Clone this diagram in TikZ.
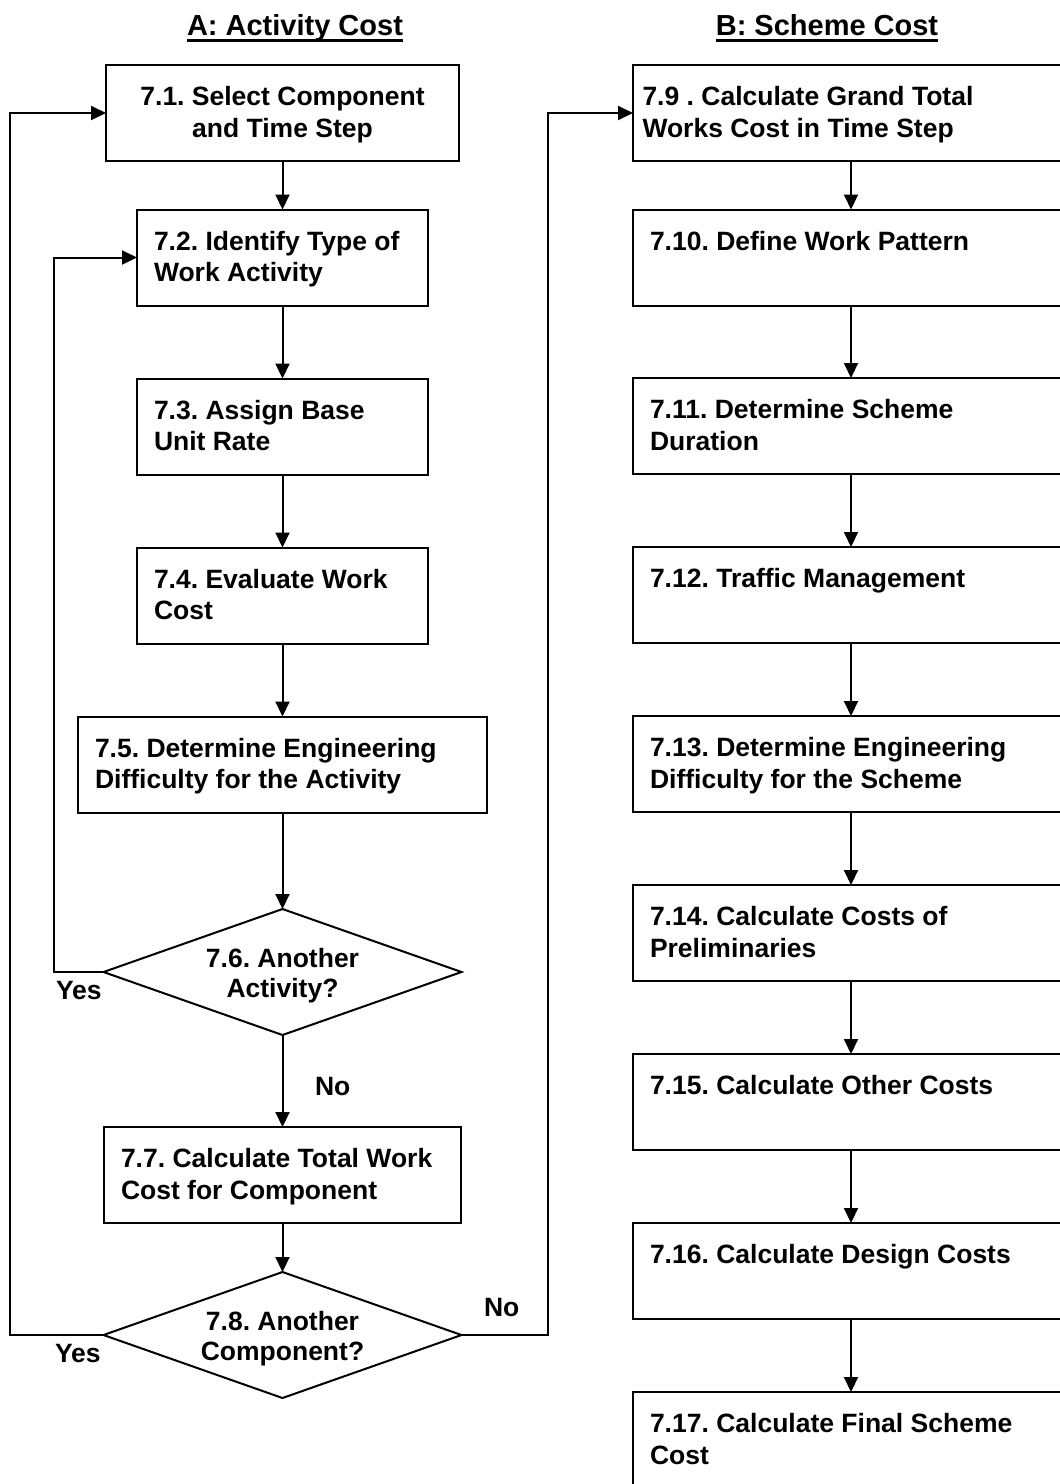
\documentclass[tikz,border=0pt]{standalone}
\usepackage{fontspec}
\setmainfont{Liberation Sans}
\usetikzlibrary{arrows.meta,shapes.geometric}
\frenchspacing
\begin{document}
\begin{tikzpicture}[x=1pt,y=-1pt,
  box/.style={draw,line width=2pt,inner sep=0pt,outer sep=0pt,minimum height=96pt},
  lbox/.style={box,minimum width=291pt},
  rbox/.style={box,minimum width=436pt},
  dia/.style={draw,line width=2pt,shape=diamond,inner sep=0pt,outer sep=0pt,minimum width=358pt,minimum height=126pt},
  txt/.style={inner sep=0pt,outer sep=0pt,font=\fontsize{26.5}{31.7}\selectfont\bfseries,align=left,anchor=north west},
  dtxt/.style={inner sep=0pt,outer sep=0pt,font=\fontsize{26.5}{30}\selectfont\bfseries,align=center,anchor=north},
  yn/.style={inner sep=0pt,outer sep=0pt,font=\fontsize{26.5}{30}\selectfont\bfseries,anchor=base west},
  head/.style={inner sep=0pt,outer sep=0pt,font=\fontsize{29}{34}\selectfont\bfseries,anchor=base},
  arr/.style={line width=2pt,-{Triangle[length=15pt,width=14pt]}},
  ln/.style={line width=2pt}
]
\useasboundingbox (0,0) rectangle (1060,1484);
\clip (0,0) rectangle (1060,1484);
\fill[white] (0,0) rectangle (1060,1484);

% headers
\node[head] (hA) at (295,35.5) {A: Activity Cost};
\node[head] (hB) at (827,35.5) {B: Scheme Cost};
\draw[line width=2.5pt] ([yshift=-5pt]hA.base west) -- ([yshift=-5pt]hA.base east);
\draw[line width=2.5pt] ([yshift=-5pt]hB.base west) -- ([yshift=-5pt]hB.base east);

% left column
\node[box,minimum width=353pt] (b1) at (282.5,113) {};
\node[lbox] (b2) at (282.5,257.5) {};
\node[lbox] (b3) at (282.5,426.5) {};
\node[lbox] (b4) at (282.5,595.5) {};
\node[box,minimum width=409pt] (b5) at (282.5,764.5) {};
\node[dia] (d6) at (282.5,972) {};
\node[box,minimum width=357pt] (b7) at (282.5,1175) {};
\node[dia] (d8) at (282.5,1335) {};

\node[txt,align=center,anchor=north] (t1) at ([yshift=-21.5pt]b1.north) {7.1. Select Component\\and Time Step};
\node[txt] (t2) at ([xshift=17pt,yshift=-21.5pt]b2.north west) {7.2. Identify Type of\\Work Activity};
\node[txt] (t3) at ([xshift=17pt,yshift=-21.5pt]b3.north west) {7.3. Assign Base\\Unit Rate};
\node[txt] (t4) at ([xshift=17pt,yshift=-21.5pt]b4.north west) {7.4. Evaluate Work\\Cost};
\node[txt] (t5) at ([xshift=17pt,yshift=-21.5pt]b5.north west) {7.5. Determine Engineering\\Difficulty for the Activity};
\node[dtxt] (t6) at ([yshift=24pt]d6.center) {7.6. Another\\Activity?};
\node[txt] (t7) at ([xshift=17pt,yshift=-21.5pt]b7.north west) {7.7. Calculate Total Work\\Cost for Component};
\node[dtxt] (t8) at ([yshift=24pt]d8.center) {7.8. Another\\Component?};

% right column
\node[rbox] (b9) at (851,113) {};
\node[rbox] (b10) at (851,257.5) {};
\node[rbox] (b11) at (851,426) {};
\node[rbox] (b12) at (851,595) {};
\node[rbox] (b13) at (851,764) {};
\node[rbox] (b14) at (851,933) {};
\node[rbox] (b15) at (851,1102) {};
\node[rbox] (b16) at (851,1271) {};
\node[rbox] (b17) at (851,1440) {};

\node[txt] (t9) at ([xshift=9.5pt,yshift=-21.5pt]b9.north west) {7.9 . Calculate Grand Total\\Works Cost in Time Step};
\node[txt] (t10) at ([xshift=17pt,yshift=-21.5pt]b10.north west) {7.10. Define Work Pattern};
\node[txt] (t11) at ([xshift=17pt,yshift=-21.5pt]b11.north west) {7.11. Determine Scheme\\Duration};
\node[txt] (t12) at ([xshift=17pt,yshift=-21.5pt]b12.north west) {7.12. Traffic Management};
\node[txt] (t13) at ([xshift=17pt,yshift=-21.5pt]b13.north west) {7.13. Determine Engineering\\Difficulty for the Scheme};
\node[txt] (t14) at ([xshift=17pt,yshift=-21.5pt]b14.north west) {7.14. Calculate Costs of\\Preliminaries};
\node[txt] (t15) at ([xshift=17pt,yshift=-21.5pt]b15.north west) {7.15. Calculate Other Costs};
\node[txt] (t16) at ([xshift=17pt,yshift=-21.5pt]b16.north west) {7.16. Calculate Design Costs};
\node[txt] (t17) at ([xshift=17pt,yshift=-21.5pt]b17.north west) {7.17. Calculate Final Scheme\\Cost};

% labels
\node[yn] (y6) at (56,999) {Yes};
\node[yn] (n6) at (315,1095) {No};
\node[yn] (y8) at (55,1362) {Yes};
\node[yn] (n8) at (484,1316) {No};

% loop corners
\coordinate (c6) at (54,972);
\coordinate (c8) at (10,1335);
\coordinate (c9) at (548,1335);

% connectors left
\draw[arr] (b1) -- (b2);
\draw[arr] (b2) -- (b3);
\draw[arr] (b3) -- (b4);
\draw[arr] (b4) -- (b5);
\draw[arr] (b5) -- (d6);
\draw[arr] (d6) -- (b7);
\draw[arr] (b7) -- (d8);
\draw[arr] (d6.west) -- (c6) |- (b2.west);
\draw[arr] (d8.west) -- (c8) |- (b1.west);
\draw[arr] (d8.east) -- (c9) |- (b9.west);

% connectors right
\draw[arr] (b9) -- (b10);
\draw[arr] (b10) -- (b11);
\draw[arr] (b11) -- (b12);
\draw[arr] (b12) -- (b13);
\draw[arr] (b13) -- (b14);
\draw[arr] (b14) -- (b15);
\draw[arr] (b15) -- (b16);
\draw[arr] (b16) -- (b17);
\end{tikzpicture}
\end{document}
